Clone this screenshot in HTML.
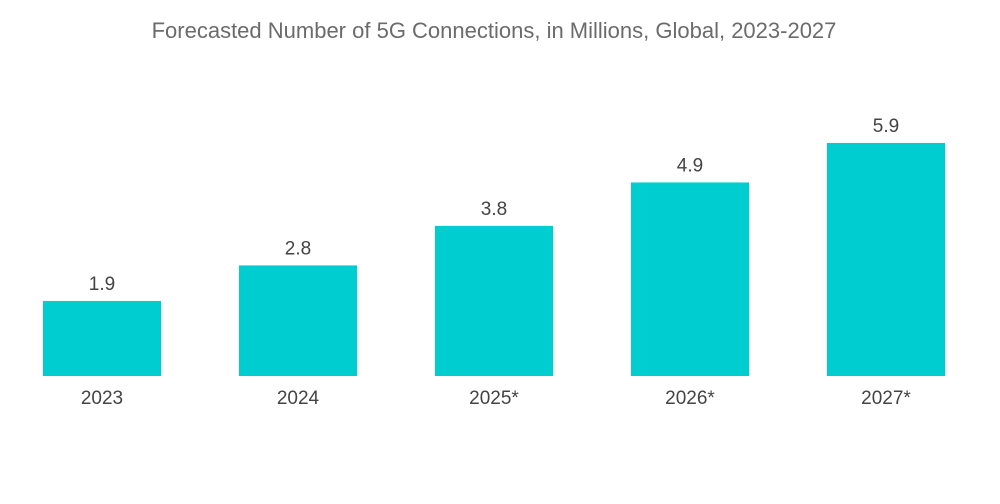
<!DOCTYPE html>
<html><head><meta charset="utf-8"><style>
body{margin:0;background:#fff;}
svg{display:block;font-family:"Liberation Sans",sans-serif;}
</style></head><body>
<svg id="chart" width="1000" height="504">
<text x="494" y="38" text-anchor="middle" font-size="22" fill="#6b6b6b">Forecasted Number of 5G Connections, in Millions, Global, 2023-2027</text>
<g id="bars"></g>
</svg>
<script>
const categories=["2023","2024","2025*","2026*","2027*"];
const values=[1.9,2.8,3.8,4.9,5.9];
const labels=["1.9","2.8","3.8","4.9","5.9"];
const baseY=376, pxPerUnit=39.5, x0=43, step=196, bw=118;
function xPos(i){return x0+i*step;}
function yPos(v){return baseY-v*pxPerUnit;}
const g=document.getElementById('bars');
const NS='http://www.w3.org/2000/svg';
values.forEach((v,i)=>{
  const r=document.createElementNS(NS,'rect');
  r.setAttribute('x',xPos(i));r.setAttribute('y',yPos(v));
  r.setAttribute('width',bw);r.setAttribute('height',baseY-yPos(v));
  r.setAttribute('fill','#00cdd0');
  
  
  g.appendChild(r);
  const t=document.createElementNS(NS,'text');
  t.setAttribute('x',xPos(i)+bw/2);t.setAttribute('y',yPos(v)-11);
  t.setAttribute('text-anchor','middle');t.setAttribute('font-size','19');t.setAttribute('fill','#444');
  t.textContent=labels[i];
  
  
  g.appendChild(t);
  const c=document.createElementNS(NS,'text');
  c.setAttribute('x',xPos(i)+bw/2);c.setAttribute('y',404);
  c.setAttribute('text-anchor','middle');c.setAttribute('font-size','19');c.setAttribute('fill','#444');
  c.textContent=categories[i];
  
  
  g.appendChild(c);
});
</script>
</body></html>
